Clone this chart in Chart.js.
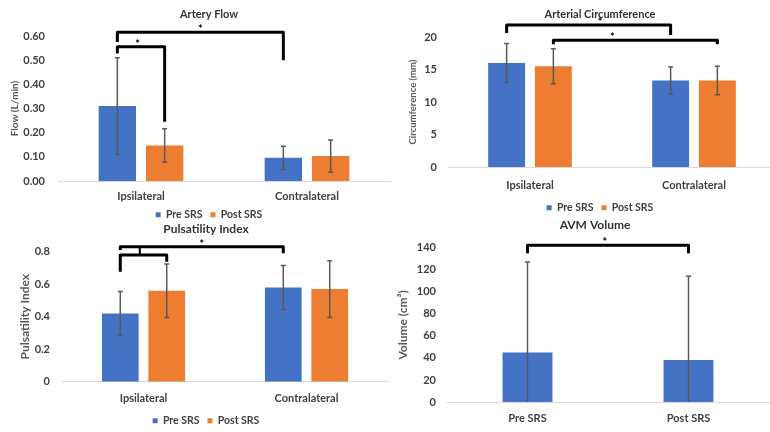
<!DOCTYPE html>
<html>
<head>
<meta charset="utf-8">
<script src="https://cdn.jsdelivr.net/npm/chart.js@4.4.1/dist/chart.umd.min.js"></script>
<style>
  html, body { margin: 0; padding: 0; background: #fff; width: 770px; height: 432px; overflow: hidden; position: relative; }
  canvas { position: absolute; }
</style>
</head>
<body>
<canvas id="flowChart" width="418" height="230" style="left:0;top:0"></canvas>
<canvas id="circChart" width="400" height="223" style="left:400px;top:0"></canvas>
<canvas id="pulseChart" width="412" height="222" style="left:0;top:214px"></canvas>
<canvas id="volumeChart" width="410" height="222" style="left:390px;top:210px"></canvas>
<script>
const sides = ['Ipsilateral', 'Contralateral'];
const seriesNames = ['Pre SRS', 'Post SRS'];

const flowPre = [0.31, 0.096];
const flowPost = [0.147, 0.103];
const flowPreErr = [0.20, 0.048];
const flowPostErr = [0.069, 0.067];
const flowTicks = ['0.00', '0.10', '0.20', '0.30', '0.40', '0.50', '0.60'];

const circPre = [16.0, 13.3];
const circPost = [15.5, 13.3];
const circPreErr = [3.0, 2.1];
const circPostErr = [2.7, 2.2];
const circTicks = ['0', '5', '10', '15', '20'];

const piPre = [0.42, 0.58];
const piPost = [0.56, 0.57];
const piPreErr = [0.135, 0.135];
const piPostErr = [0.165, 0.175];
const piTicks = ['0', '0.2', '0.4', '0.6', '0.8'];

const volumeLabels = ['Pre SRS', 'Post SRS'];
const volume = [45, 38];
const volumeErr = [82, 76];
const volumeTicks = ['0', '20', '40', '60', '80', '100', '120', '140'];

// significance brackets: ends are [dataset, index], heights in axis units
const flowBrackets = [
  { from: [0, 0], to: [0, 1], top: 0.616, legs: [0.575, 0.50], star: 0.5 },
  { from: [0, 0], to: [1, 0], top: 0.556, legs: [0.528, 0.245], star: 0.43 }
];
const circBrackets = [
  { from: [0, 0], to: [0, 1], top: 21.85, legs: [20.6, 20.3], star: 0.57 },
  { from: [1, 0], to: [1, 1], top: 19.5, legs: [18.9, 18.9], star: 0.36 }
];
const piBrackets = [
  { from: [0, 0], to: [0, 1], top: 0.831, legs: [0.81, 0.79], star: 0.5 },
  { from: [0, 0], to: [1, 0], top: 0.78, legs: [0.677, 0.738], stem: [0.42, 0.831] }
];
const volumeBrackets = [
  { from: [0, 0], to: [0, 1], top: 142.2, legs: [134.9, 134.9], star: 0.48 }
];

const blue = '#4472C4';
const orange = '#ED7D31';
Chart.defaults.font.family = 'Lato, "Open Sans", sans-serif';
Chart.defaults.color = '#404040';

// error bars + brackets drawn on top of the bars
const marks = {
  id: 'marks',
  afterDatasetsDraw(chart, args, opts) {
    const { ctx } = chart;
    const y = chart.scales.y;
    ctx.save();
    ctx.strokeStyle = '#595959';
    ctx.lineWidth = 1.5;
    (opts.errors || []).forEach((errs, d) => {
      chart.getDatasetMeta(d).data.forEach((bar, i) => {
        const v = chart.data.datasets[d].data[i];
        const hi = y.getPixelForValue(v + errs[i]);
        const low = v - errs[i];
        const lo = y.getPixelForValue(Math.max(0, low));
        ctx.beginPath();
        ctx.moveTo(bar.x, hi);
        ctx.lineTo(bar.x, lo);
        ctx.moveTo(bar.x - 2.5, hi);
        ctx.lineTo(bar.x + 2.5, hi);
        if (low > 0) {
          ctx.moveTo(bar.x - 2.5, lo);
          ctx.lineTo(bar.x + 2.5, lo);
        }
        ctx.stroke();
      });
    });

    ctx.strokeStyle = '#000';
    ctx.fillStyle = '#000';
    ctx.lineWidth = 3;
    ctx.lineJoin = 'round';
    ctx.font = 'bold 11px Lato, sans-serif';
    ctx.textAlign = 'center';
    ctx.textBaseline = 'alphabetic';
    (opts.brackets || []).forEach(b => {
      const x1 = chart.getDatasetMeta(b.from[0]).data[b.from[1]].x;
      const x2 = chart.getDatasetMeta(b.to[0]).data[b.to[1]].x;
      const yt = y.getPixelForValue(b.top);
      ctx.beginPath();
      ctx.moveTo(x1, y.getPixelForValue(b.legs[0]));
      ctx.lineTo(x1, yt);
      ctx.lineTo(x2, yt);
      ctx.lineTo(x2, y.getPixelForValue(b.legs[1]));
      ctx.stroke();
      if (b.star != null) {
        ctx.fillText('*', x1 + (x2 - x1) * b.star, yt + 1);
      }
      if (b.stem) {
        const xs = x1 + (x2 - x1) * b.stem[0];
        ctx.beginPath();
        ctx.lineWidth = 2;
        ctx.moveTo(xs, yt);
        ctx.lineTo(xs, y.getPixelForValue(b.stem[1]));
        ctx.stroke();
        ctx.lineWidth = 3;
      }
    });
    ctx.restore();
  }
};

function barChart(id, o) {
  return new Chart(document.getElementById(id), {
    type: 'bar',
    data: { labels: o.labels, datasets: o.datasets },
    plugins: [marks],
    options: {
      responsive: false,
      animation: false,
      categoryPercentage: o.catPct,
      barPercentage: o.barPct,
      plugins: {
        title: {
          display: true,
          text: o.title,
          color: '#333',
          font: { size: o.titleSize, weight: 'bold' },
          padding: { top: o.titlePad[0], bottom: o.titlePad[1] }
        },
        legend: {
          display: o.legend,
          position: 'bottom',
          labels: { boxWidth: 5, boxHeight: 5, padding: 8, font: { size: 10.5, weight: 'bold' } }
        },
        tooltip: { enabled: false },
        marks: { errors: o.errors, brackets: o.brackets }
      },
      scales: {
        x: {
          grid: { display: false, drawTicks: false },
          border: { color: '#d9d9d9' },
          ticks: { padding: o.xPad, font: { size: 11, weight: 'bold', lineHeight: 1 } },
          afterFit: s => { s.height = o.xHeight; }
        },
        y: {
          min: 0,
          max: o.max,
          grid: { display: false, drawTicks: false },
          border: { display: false },
          ticks: {
            stepSize: o.step,
            padding: o.yPad,
            font: { size: 11, weight: 'bold' },
            callback: (v, i) => o.ticks[i]
          },
          title: {
            display: true,
            text: o.yTitle,
            color: '#595959',
            font: { size: o.yTitleSize, weight: 'bold' },
            padding: { top: o.yTitlePad, bottom: 0 }
          },
          afterFit: s => { s.width = o.yWidth; }
        },
        pad: {
          type: 'linear',
          axis: 'y',
          position: 'right',
          ticks: { display: false },
          grid: { display: false },
          border: { display: false },
          afterFit: s => { s.width = o.padWidth; }
        }
      }
    }
  });
}

barChart('flowChart', {
  labels: sides,
  datasets: [
    { label: seriesNames[0], data: flowPre, backgroundColor: blue },
    { label: seriesNames[1], data: flowPost, backgroundColor: orange }
  ],
  errors: [flowPreErr, flowPostErr],
  brackets: flowBrackets,
  title: 'Artery Flow', titleSize: 11,
  titlePad: [7.4, 15.4],
  legend: true,
  catPct: 0.57, barPct: 0.79,
  max: 0.6, step: 0.1, ticks: flowTicks,
  yTitle: 'Flow (L/min)', yTitleSize: 10, yTitlePad: 9,
  yWidth: 58, yPad: 13, padWidth: 28,
  xPad: 9.5, xHeight: 20.5
});

barChart('circChart', {
  labels: sides,
  datasets: [
    { label: seriesNames[0], data: circPre, backgroundColor: blue },
    { label: seriesNames[1], data: circPost, backgroundColor: orange }
  ],
  errors: [circPreErr, circPostErr],
  brackets: circBrackets,
  title: 'Arterial Circumference', titleSize: 11,
  titlePad: [7.4, 16.4],
  legend: true,
  catPct: 0.57, barPct: 0.79,
  max: 20, step: 5, ticks: circTicks,
  yTitle: 'Circumference (mm)', yTitleSize: 9.5, yTitlePad: 7.3,
  yWidth: 48, yPad: 11, padWidth: 24,
  xPad: 12.5, xHeight: 27.5
});

barChart('pulseChart', {
  labels: sides,
  datasets: [
    { label: seriesNames[0], data: piPre, backgroundColor: blue },
    { label: seriesNames[1], data: piPost, backgroundColor: orange }
  ],
  errors: [piPreErr, piPostErr],
  brackets: piBrackets,
  title: 'Pulsatility Index', titleSize: 12,
  titlePad: [7.5, 15.8],
  legend: true,
  catPct: 0.57, barPct: 0.79,
  max: 0.8, step: 0.2, ticks: piTicks,
  yTitle: 'Pulsatility Index', yTitleSize: 12, yTitlePad: 17.8,
  yWidth: 62, yPad: 12, padWidth: 24,
  xPad: 11.5, xHeight: 25.8
});

barChart('volumeChart', {
  labels: volumeLabels,
  datasets: [
    { label: 'AVM Volume', data: volume, backgroundColor: blue }
  ],
  errors: [volumeErr],
  brackets: volumeBrackets,
  title: 'AVM Volume', titleSize: 12,
  titlePad: [8.1, 15.2],
  legend: false,
  catPct: 0.31, barPct: 1,
  max: 140, step: 20, ticks: volumeTicks,
  yTitle: 'Volume (cm³)', yTitleSize: 12, yTitlePad: 5.8,
  yWidth: 57, yPad: 11, padWidth: 31,
  xPad: 11.1, xHeight: 30
});
</script>
</body>
</html>
